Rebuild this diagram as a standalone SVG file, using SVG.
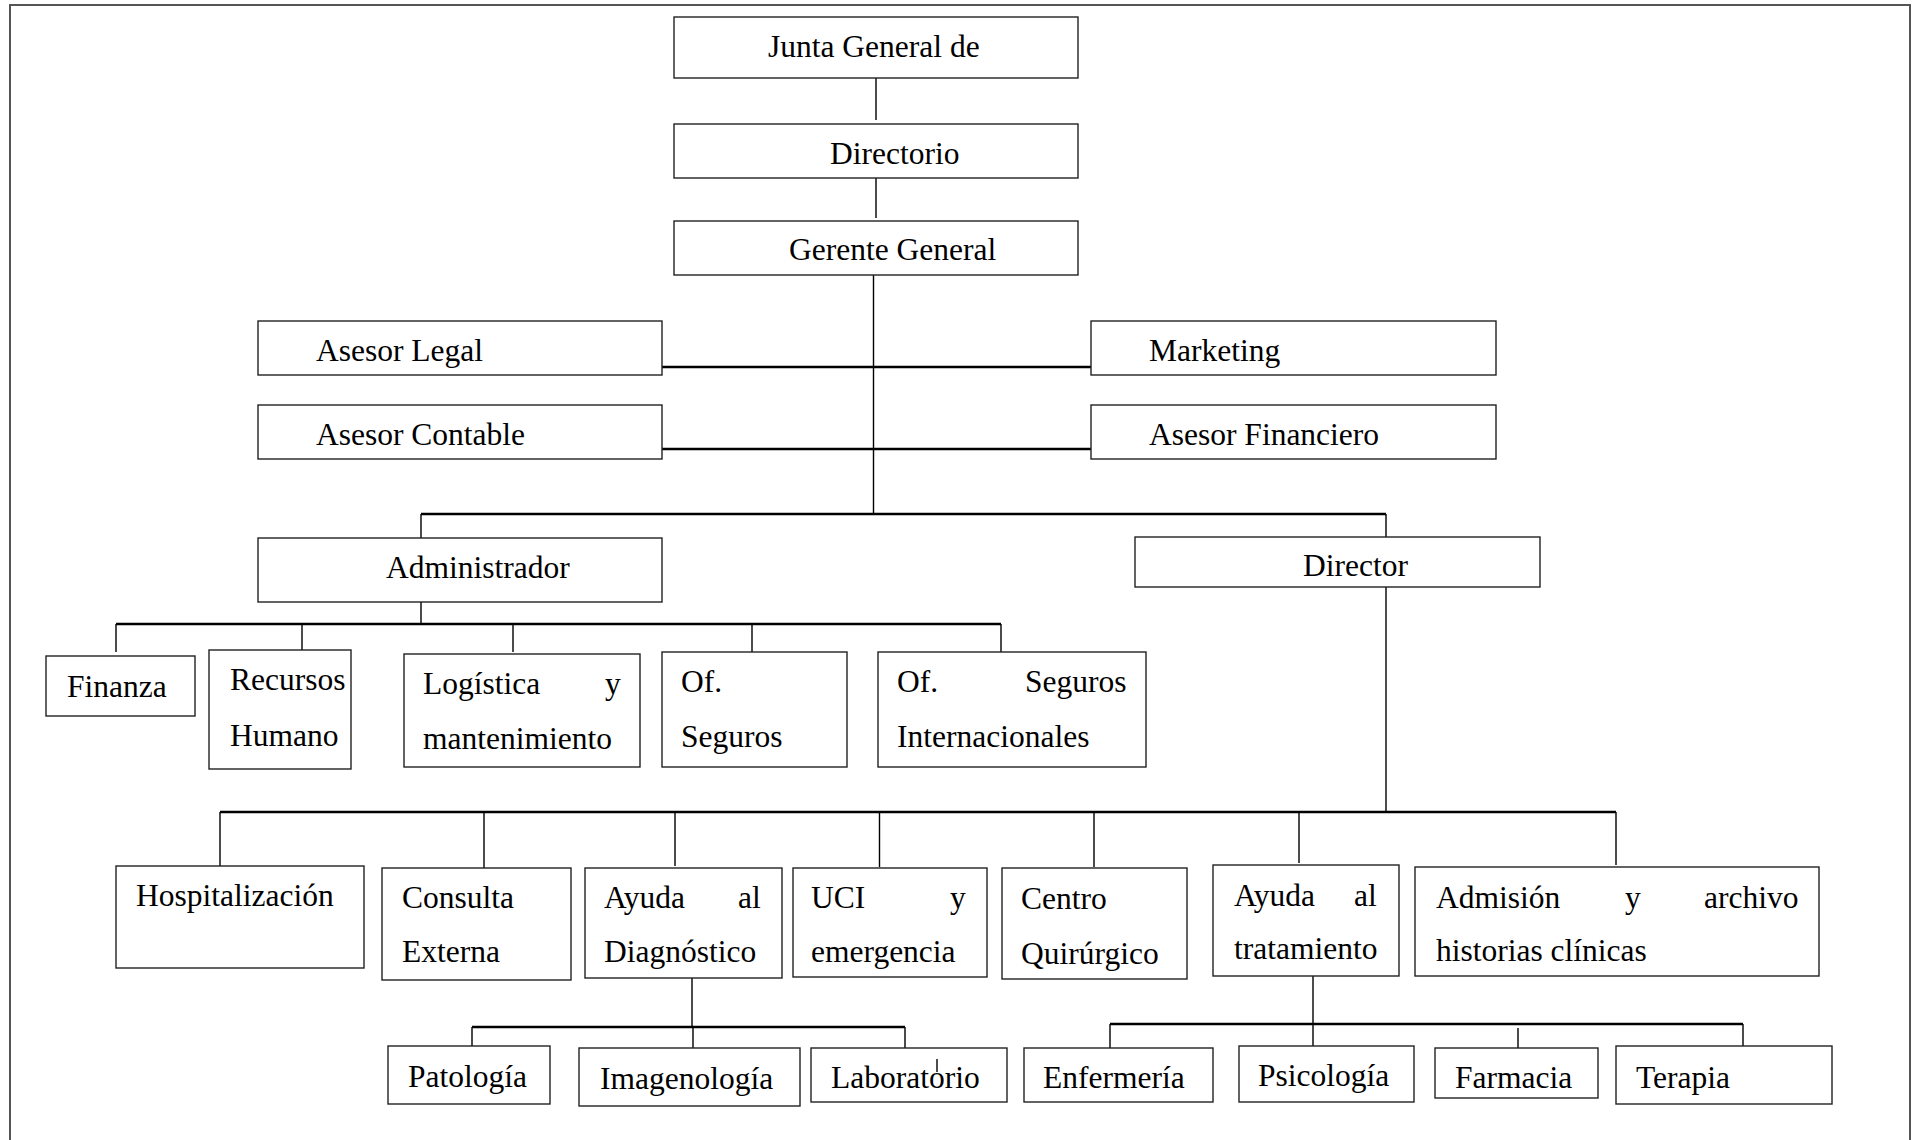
<svg xmlns="http://www.w3.org/2000/svg" width="1918" height="1140" viewBox="0 0 1918 1140">
<style>
.b{fill:#fff;stroke:#222;stroke-width:1.4}
.t{font-family:"Liberation Serif","Times New Roman",serif;font-size:31.5px;fill:#000}
.v{stroke:#000;stroke-width:1.4;fill:none}
.h{stroke:#000;stroke-width:2.6;fill:none}
.f{stroke:#555;stroke-width:2;fill:none}
</style>
<rect width="1918" height="1140" fill="#fff"/>
<path class="f" d="M10,1140 V5 H1910 V1140"/>
<g id="connectors">
<path class="v" d="M876,78 V120 M876,178 V218 M873.5,275 V514"/>
<path class="h" d="M662,367 H1091 M662,449 H1091 M421,514 H1386"/>
<path class="v" d="M421,514 V538 M1386,514 V537 M421,602 V624"/>
<path class="h" d="M116,624 H1001"/>
<path class="v" d="M116,624 V652 M302,624 V652 M513,624 V652 M752,624 V652 M1001,624 V652"/>
<path class="v" d="M1386,587 V812"/>
<path class="h" d="M220,812 H1616"/>
<path class="v" d="M220,812 V866 M484,812 V869 M675,812 V866 M879.5,812 V867 M1094,812 V867 M1299,812 V863 M1616,812 V865"/>
<path class="v" d="M692,978 V1027"/>
<path class="h" d="M472,1027 H905"/>
<path class="v" d="M472,1027 V1048 M693,1027 V1048 M905,1027 V1048"/>
<path class="v" d="M1313,976 V1024"/>
<path class="h" d="M1110,1024 H1743"/>
<path class="v" d="M1110,1024 V1048 M1313,1024 V1046 M1518,1028 V1048 M1743,1024 V1046"/>
</g>
<g id="junta"><rect class="b" x="674" y="17" width="404" height="61"/><text class="t" x="768" y="57">Junta General de</text></g>
<g id="directorio"><rect class="b" x="674" y="124" width="404" height="54"/><text class="t" x="830" y="164">Directorio</text></g>
<g id="gerente"><rect class="b" x="674" y="221" width="404" height="54"/><text class="t" x="789" y="260">Gerente General</text></g>
<g id="asesor-legal"><rect class="b" x="258" y="321" width="404" height="54"/><text class="t" x="316" y="361">Asesor Legal</text></g>
<g id="marketing"><rect class="b" x="1091" y="321" width="405" height="54"/><text class="t" x="1149" y="361">Marketing</text></g>
<g id="asesor-contable"><rect class="b" x="258" y="405" width="404" height="54"/><text class="t" x="316" y="445">Asesor Contable</text></g>
<g id="asesor-financiero"><rect class="b" x="1091" y="405" width="405" height="54"/><text class="t" x="1149" y="445">Asesor Financiero</text></g>
<g id="administrador"><rect class="b" x="258" y="538" width="404" height="64"/><text class="t" x="386" y="578">Administrador</text></g>
<g id="director"><rect class="b" x="1135" y="537" width="405" height="50"/><text class="t" x="1303" y="576">Director</text></g>
<g id="finanza"><rect class="b" x="46" y="656" width="149" height="60"/><text class="t" x="67" y="697">Finanza</text></g>
<g id="recursos"><rect class="b" x="209" y="650" width="142" height="119"/><text class="t" x="230" y="690">Recursos</text><text class="t" x="230" y="746">Humano</text></g>
<g id="logistica"><rect class="b" x="404" y="654" width="236" height="113"/><text class="t" y="694"><tspan x="423">Logística</tspan><tspan x="605">y</tspan></text><text class="t" x="423" y="749">mantenimiento</text></g>
<g id="of-seguros"><rect class="b" x="662" y="652" width="185" height="115"/><text class="t" x="681" y="692">Of.</text><text class="t" x="681" y="747">Seguros</text></g>
<g id="of-seguros-int"><rect class="b" x="878" y="652" width="268" height="115"/><text class="t" y="692"><tspan x="897">Of.</tspan><tspan x="1025">Seguros</tspan></text><text class="t" x="897" y="747">Internacionales</text></g>
<g id="hospitalizacion"><rect class="b" x="116" y="866" width="248" height="102"/><text class="t" x="136" y="906">Hospitalización</text></g>
<g id="consulta"><rect class="b" x="382" y="868" width="189" height="112"/><text class="t" x="402" y="908">Consulta</text><text class="t" x="402" y="962">Externa</text></g>
<g id="ayuda-diag"><rect class="b" x="585" y="868" width="197" height="110"/><text class="t" y="908"><tspan x="604">Ayuda</tspan><tspan x="738">al</tspan></text><text class="t" x="604" y="962">Diagnóstico</text></g>
<g id="uci"><rect class="b" x="793" y="868" width="194" height="109"/><text class="t" y="908"><tspan x="811">UCI</tspan><tspan x="950">y</tspan></text><text class="t" x="811" y="962">emergencia</text></g>
<g id="centro"><rect class="b" x="1002" y="868" width="185" height="111"/><text class="t" x="1021" y="909">Centro</text><text class="t" x="1021" y="964">Quirúrgico</text></g>
<g id="ayuda-trat"><rect class="b" x="1213" y="865" width="186" height="111"/><text class="t" y="906"><tspan x="1234">Ayuda</tspan><tspan x="1354">al</tspan></text><text class="t" x="1234" y="959">tratamiento</text></g>
<g id="admision"><rect class="b" x="1415" y="867" width="404" height="109"/><text class="t" y="908"><tspan x="1436">Admisión</tspan><tspan x="1625">y</tspan><tspan x="1704">archivo</tspan></text><text class="t" x="1436" y="961">historias clínicas</text></g>
<g id="patologia"><rect class="b" x="388" y="1046" width="162" height="58"/><text class="t" x="408" y="1087">Patología</text></g>
<g id="imagenologia"><rect class="b" x="579" y="1048" width="221" height="58"/><text class="t" x="600" y="1089">Imagenología</text></g>
<g id="laboratorio"><rect class="b" x="811" y="1048" width="196" height="54"/><text class="t" x="831" y="1088">Laboratorio</text><path class="v" d="M937,1059 V1072"/></g>
<g id="enfermeria"><rect class="b" x="1024" y="1048" width="189" height="54"/><text class="t" x="1043" y="1088">Enfermería</text></g>
<g id="psicologia"><rect class="b" x="1239" y="1046" width="175" height="56"/><text class="t" x="1258" y="1086">Psicología</text></g>
<g id="farmacia"><rect class="b" x="1435" y="1048" width="163" height="50"/><text class="t" x="1455" y="1088">Farmacia</text></g>
<g id="terapia"><rect class="b" x="1616" y="1046" width="216" height="58"/><text class="t" x="1636" y="1088">Terapia</text></g>
</svg>
